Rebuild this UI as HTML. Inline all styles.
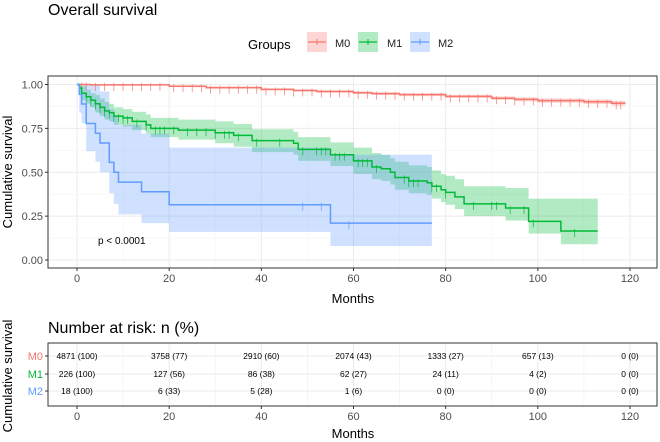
<!DOCTYPE html>
<html><head><meta charset="utf-8"><style>
html,body{margin:0;padding:0;background:#fff;}
svg{display:block;font-family:"Liberation Sans",Arial,sans-serif;}
</style></head><body>
<svg id="chart" width="660" height="442" viewBox="0 0 660 442">
<text x="48" y="15" font-size="16" fill="#000">Overall survival</text>
<g>
<text x="248" y="49" font-size="13" fill="#000">Groups</text>
<g><rect x="307" y="32" width="20" height="20" fill="#f8766d" fill-opacity="0.3"/><line x1="308" y1="42" x2="326" y2="42" stroke="#f8766d" stroke-width="1.3"/><line x1="317" y1="39" x2="317" y2="45" stroke="#f8766d"/><text x="335" y="47" font-size="11" fill="#222">M0</text></g>
<g><rect x="358" y="32" width="20" height="20" fill="#00ba38" fill-opacity="0.3"/><line x1="359" y1="42" x2="377" y2="42" stroke="#00ba38" stroke-width="1.3"/><line x1="368" y1="39" x2="368" y2="45" stroke="#00ba38"/><text x="387" y="47" font-size="11" fill="#222">M1</text></g>
<g><rect x="410" y="32" width="20" height="20" fill="#619cff" fill-opacity="0.3"/><line x1="411" y1="42" x2="429" y2="42" stroke="#619cff" stroke-width="1.3"/><line x1="420" y1="39" x2="420" y2="45" stroke="#619cff"/><text x="438" y="47" font-size="11" fill="#222">M2</text></g>
</g>
<g id="main"></g>
<text transform="translate(12,172) rotate(-90)" text-anchor="middle" font-size="13" fill="#000">Cumulative survival</text>
<text x="353" y="303" text-anchor="middle" font-size="13" fill="#000">Months</text>
<text x="98" y="244" font-size="10" fill="#000">p &lt; 0.0001</text>
<text x="48" y="333" font-size="16" fill="#000">Number at risk: n (%)</text>
<text transform="translate(12,376) rotate(-90)" text-anchor="middle" font-size="13" fill="#000">Cumulative survival</text>
<g id="risk"></g>
<text x="353" y="438" text-anchor="middle" font-size="13" fill="#000">Months</text>
</svg>
<script>
const xTicks=[0,20,40,60,80,100,120];
const yTicks=[0,0.25,0.5,0.75,1];
const yTickLabels=["0.00","0.25","0.50","0.75","1.00"];
const m0Times=[0,3,20,28,40,47,52,60,64,70,80,90,95,100,110,116,119];
const m0Surv=[1,0.998,0.99,0.982,0.972,0.966,0.96,0.953,0.948,0.942,0.932,0.922,0.915,0.908,0.902,0.893,0.893];
const m0Upper=[1,1,0.995,0.988,0.978,0.972,0.967,0.96,0.956,0.95,0.941,0.932,0.926,0.92,0.915,0.907,0.907];
const m0Lower=[1,0.995,0.985,0.976,0.966,0.96,0.953,0.946,0.94,0.934,0.923,0.912,0.904,0.896,0.889,0.879,0.879];
const m0Censor=[1,2,4,6,8,10,12,14,16,18,21,23,25,27,29,31,33,35,37,39,41,43,45,47,49,51,53,55,57,59,61,63,65,67,69,71,73,75,77,79,81,83,85,87,89,91,93,95,97,99,101,103,105,107,109,111,113,115,117,118];
const m1Times=[0,0.5,1,2,3,4,5,6,7,8,10,12,15,16,22,30,34,38,47,48,55,60,64,66,68,69,72,76,77,79,80,82,84,93,98,105,113];
const m1Surv=[1,0.98,0.95,0.93,0.91,0.89,0.87,0.85,0.84,0.82,0.81,0.79,0.77,0.75,0.74,0.725,0.71,0.68,0.665,0.63,0.6,0.565,0.53,0.52,0.5,0.47,0.45,0.44,0.42,0.4,0.385,0.36,0.32,0.296,0.22,0.165,0.165];
const m1Upper=[1,1,0.99,0.97,0.95,0.94,0.92,0.9,0.89,0.87,0.86,0.845,0.83,0.81,0.8,0.79,0.775,0.745,0.73,0.7,0.67,0.64,0.61,0.6,0.58,0.56,0.54,0.53,0.51,0.49,0.48,0.46,0.42,0.41,0.35,0.35,0.35];
const m1Lower=[1,0.95,0.91,0.89,0.87,0.84,0.82,0.8,0.79,0.77,0.76,0.74,0.72,0.7,0.685,0.665,0.645,0.615,0.6,0.565,0.535,0.49,0.46,0.45,0.43,0.4,0.38,0.37,0.35,0.33,0.315,0.29,0.25,0.225,0.15,0.09,0.09];
const m1Censor=[2,3,4,5,6,7,8,9,10,11,13,15,17,18,19,21,24,26,28,30,32,33,35,39,44,49,52,53,54,56,57,58,61,62,63,65,71,72,73,74,77,78,80,86,90,91,94,97,99,108];
const m2Times=[0,0.5,1,2,4,5,7,8,9,14,20,55,77];
const m2Surv=[1,0.944,0.889,0.778,0.722,0.667,0.556,0.5,0.444,0.389,0.315,0.21,0.21];
const m2Upper=[1,1,1,1,1,0.96,0.86,0.82,0.77,0.72,0.64,0.6,0.6];
const m2Lower=[1,0.84,0.78,0.62,0.56,0.5,0.38,0.32,0.26,0.21,0.16,0.08,0.08];
const m2Censor=[49,53,59];
const riskGroups=["M0","M1","M2"];
const riskM0=["4871 (100)","3758 (77)","2910 (60)","2074 (43)","1333 (27)","657 (13)","0 (0)"];
const riskM1=["226 (100)","127 (56)","86 (38)","62 (27)","24 (11)","4 (2)","0 (0)"];
const riskM2=["18 (100)","6 (33)","5 (28)","1 (6)","0 (0)","0 (0)","0 (0)"];

const NS="http://www.w3.org/2000/svg";
const L=48,R=657,T=76,B=268;
const x=v=>77+v*(630-77)/120;
const y=v=>260-v*175.5;
function el(tag,attrs,parent){const e=document.createElementNS(NS,tag);for(const k in attrs)e.setAttribute(k,attrs[k]);parent.appendChild(e);return e;}
const main=document.getElementById('main');
el('rect',{x:L,y:T,width:R-L,height:B-T,fill:'#fff'},main);
for(let i=0;i<xTicks.length;i++){
  el('line',{x1:x(xTicks[i]),x2:x(xTicks[i]),y1:T,y2:B,stroke:'#ebebeb','stroke-width':1},main);
  if(i<xTicks.length-1){const m=(xTicks[i]+xTicks[i+1])/2;el('line',{x1:x(m),x2:x(m),y1:T,y2:B,stroke:'#f5f5f5','stroke-width':0.6},main);}
}
for(let i=0;i<yTicks.length;i++){
  el('line',{x1:L,x2:R,y1:y(yTicks[i]),y2:y(yTicks[i]),stroke:'#ebebeb','stroke-width':1},main);
  if(i<yTicks.length-1){const m=(yTicks[i]+yTicks[i+1])/2;el('line',{x1:L,x2:R,y1:y(m),y2:y(m),stroke:'#f5f5f5','stroke-width':0.6},main);}
}
function stepPts(t,s){let p=[];for(let i=0;i<t.length;i++){if(i>0)p.push([x(t[i]),y(s[i-1])]);p.push([x(t[i]),y(s[i])]);}return p;}
function band(t,u,l,color,name){
  const up=stepPts(t,u),lo=stepPts(t,l).reverse();
  const b=el('polygon',{points:up.concat(lo).map(p=>p.join(',')).join(' '),fill:color,'fill-opacity':0.3},main);
  
  
}
function valAt(t,s,v){let r=s[0];for(let i=0;i<t.length;i++)if(t[i]<=v)r=s[i];return r;}
function curve(t,s,c,color,name){
  const p=el('polyline',{points:stepPts(t,s).map(p=>p.join(',')).join(' '),fill:'none',stroke:color,'stroke-width':1.5},main);
  
  
  c.forEach(ct=>{const yy=y(valAt(t,s,ct));
    const m=el('line',{x1:x(ct),x2:x(ct),y1:yy-2,y2:yy+6,stroke:color,'stroke-width':0.7},main);
    
    });
}
band(m0Times,m0Upper,m0Lower,'#f8766d','m0-confidence-band');
band(m1Times,m1Upper,m1Lower,'#00ba38','m1-confidence-band');
band(m2Times,m2Upper,m2Lower,'#619cff','m2-confidence-band');
curve(m0Times,m0Surv,m0Censor,'#f8766d','m0-survival-curve');
curve(m1Times,m1Surv,m1Censor,'#00ba38','m1-survival-curve');
curve(m2Times,m2Surv,m2Censor,'#619cff','m2-survival-curve');
el('rect',{x:L,y:T,width:R-L,height:B-T,fill:'none',stroke:'#333','stroke-width':1},main);
xTicks.forEach(v=>{
  el('line',{x1:x(v),x2:x(v),y1:B,y2:B+3,stroke:'#333'},main);
  const t=el('text',{x:x(v),y:B+14,'text-anchor':'middle','font-size':11,fill:'#4d4d4d'},main);t.textContent=v;
  
  
});
yTicks.forEach((v,i)=>{
  el('line',{x1:L-3,x2:L,y1:y(v),y2:y(v),stroke:'#333'},main);
  const t=el('text',{x:L-5,y:y(v)+4,'text-anchor':'end','font-size':11,fill:'#4d4d4d'},main);t.textContent=yTickLabels[i];
  
  
});
const risk=document.getElementById('risk');
const RT=343,RB=406,RL=48;
el('rect',{x:RL,y:RT,width:R-RL,height:RB-RT,fill:'#fff'},risk);
xTicks.forEach((v,i)=>{
  el('line',{x1:x(v),x2:x(v),y1:RT,y2:RB,stroke:'#ebebeb'},risk);
  if(i<xTicks.length-1){const m=(xTicks[i]+xTicks[i+1])/2;el('line',{x1:x(m),x2:x(m),y1:RT,y2:RB,stroke:'#f0f0f0','stroke-width':0.6},risk);}
});
const rowY=[356,374,391];
const rowColors=['#f8766d','#00ba38','#619cff'];
const rows=[riskM0,riskM1,riskM2];
rows.forEach((row,ri)=>{
  el('line',{x1:RL,x2:R,y1:rowY[ri],y2:rowY[ri],stroke:'#ebebeb'},risk);
  el('line',{x1:RL-3,x2:RL,y1:rowY[ri],y2:rowY[ri],stroke:'#333'},risk);
  const g=el('text',{x:RL-5,y:rowY[ri]+4,'text-anchor':'end','font-size':11,fill:rowColors[ri]},risk);g.textContent=riskGroups[ri];
  
  
  row.forEach((txt,ci)=>{
    const t=el('text',{x:x(xTicks[ci]),y:rowY[ri]+3,'text-anchor':'middle','font-size':8.5,fill:'#000'},risk);t.textContent=txt;
    
    
  });
});
el('rect',{x:RL,y:RT,width:R-RL,height:RB-RT,fill:'none',stroke:'#333'},risk);
xTicks.forEach(v=>{
  el('line',{x1:x(v),x2:x(v),y1:RB,y2:RB+3,stroke:'#333'},risk);
  const t=el('text',{x:x(v),y:RB+14,'text-anchor':'middle','font-size':11,fill:'#4d4d4d'},risk);t.textContent=v;
  
  
});
</script>
</body></html>
